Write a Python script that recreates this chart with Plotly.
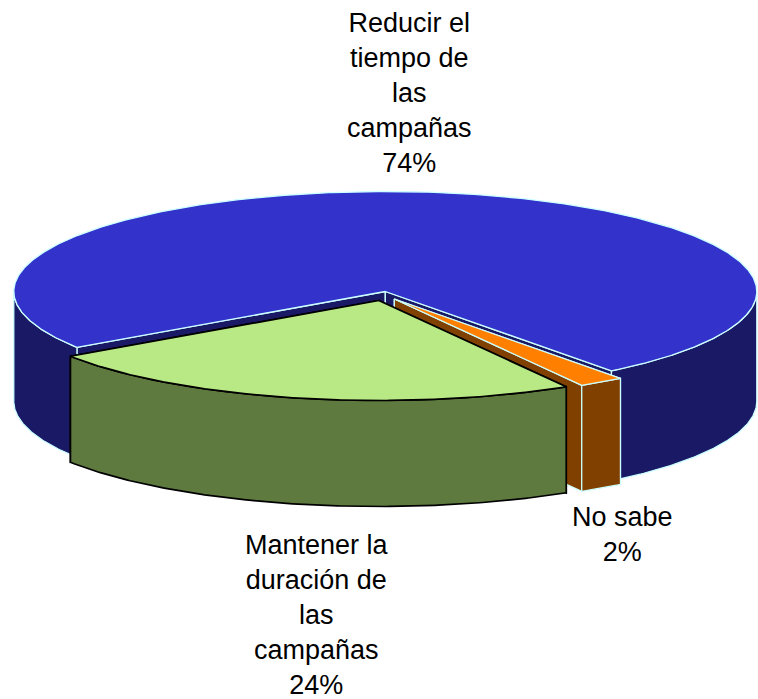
import math
import plotly.graph_objects as go

# ---- data ----
categories = ["Reducir el tiempo de las campañas", "No sabe", "Mantener la duración de las campañas"]
percentages = [74, 2, 24]
label_lines = [
    ["Reducir el", "tiempo de", "las", "campañas", "74%"],
    ["No sabe", "2%"],
    ["Mantener la", "duración de", "las", "campañas", "24%"],
]

# ---- style / geometry ----
W, H = 758, 699
CX, CY, RX, RY = 385.3, 291.5, 371.5, 100.0
START_DEG = 213.9           # clockwise from here, maths angle
offsets = [(0, 0), (9, 7.5), (-6.5, 9)]
depths = [110, 106, 106]
top_cols = ["#3333CC", "#FF8000", "#B9E985"]
side_cols = ["#191966", "#804000", "#5E7A3F"]
edge_cols = ["#CCFFFF", "#CCFFFF", "#000000"]
edge_widths = [1.3, 1.3, 1.7]
label_pos = [(409, 93), (622, 534), (317, 615)]
FONT = dict(family="Liberation Sans, Arial, sans-serif", size=27, color="#000000")


def pt(deg, ox=0.0, oy=0.0, dz=0.0):
    r = math.radians(deg)
    return CX + ox + RX * math.cos(r), CY + oy - RY * math.sin(r) + dz


def arc(a0, a1, ox, oy, dz=0.0):
    n = max(2, int(abs(a1 - a0) * 2))
    return [pt(a0 + (a1 - a0) * i / n, ox, oy, dz) for i in range(n + 1)]


fig = go.Figure()


def poly(points, fill, line, width=1.0, closed=True, name=""):
    xs = [p[0] for p in points]
    ys = [p[1] for p in points]
    if closed:
        xs.append(xs[0])
        ys.append(ys[0])
    fig.add_trace(go.Scatter(
        x=xs, y=ys, mode="lines", name=name,
        fill="toself" if fill else "none", fillcolor=fill,
        line=dict(color=line, width=width), hoverinfo="name", showlegend=False,
    ))


# slice angle ranges, clockwise, derived from the values
total = sum(percentages)
spans = []
a = START_DEG
for v in percentages:
    b = a - 360.0 * v / total
    spans.append((a, b))
    a = b


def draw_slice(i):
    a0, a1 = spans[i]
    ox, oy = offsets[i]
    d = depths[i]
    side, top, edge, lw = side_cols[i], top_cols[i], edge_cols[i], edge_widths[i]
    apex = (CX + ox, CY + oy)
    name = categories[i]
    # cut faces
    for ang in (a0, a1):
        e = pt(ang, ox, oy)
        poly([apex, e, (e[0], e[1] + d), (apex[0], apex[1] + d)], side, edge, lw, name=name)
    # outer wall: only the parts in the lower half of the ellipse
    lo, hi = min(a0, a1), max(a0, a1)
    k_min = math.floor(lo / 360.0) - 1
    for k in range(k_min, k_min + 4):
        s0 = max(lo, 180 + 360 * k)
        s1 = min(hi, 360 + 360 * k)
        if s1 > s0:
            upper = arc(s0, s1, ox, oy)
            lower = arc(s1, s0, ox, oy, d)
            poly(upper + lower, side, edge, lw, name=name)
    # top face
    poly([apex] + arc(a0, a1, ox, oy), top, edge, lw, name=name)


for i in [0, 1, 2]:
    draw_slice(i)

for i, lines in enumerate(label_lines):
    fig.add_annotation(
        x=label_pos[i][0], y=label_pos[i][1], text="<br>".join(lines),
        showarrow=False, font=FONT, align="center", xref="x", yref="y",
    )

fig.update_layout(
    width=W, height=H, margin=dict(l=0, r=0, t=0, b=0),
    paper_bgcolor="white", plot_bgcolor="white", showlegend=False,
    xaxis=dict(range=[0, W], visible=False, fixedrange=True),
    yaxis=dict(range=[H, 0], visible=False, fixedrange=True),
)
fig.write_html("out.html", config={"displayModeBar": False},
               post_script="document.body.style.margin='0';document.body.style.overflow='hidden';")
